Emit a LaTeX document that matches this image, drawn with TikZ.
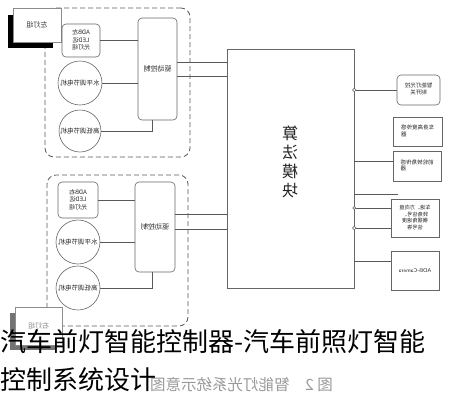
\documentclass[tikz,border=0pt]{standalone}
\usepackage{graphicx}
\usepackage{fontspec}
\setmainfont{Noto Sans CJK SC}
\newfontfamily\cjk{Noto Sans CJK SC}
\newcommand{\mir}[1]{\scalebox{-1}[1]{#1}}
\begin{document}
\begin{tikzpicture}[x=1pt,y=-1pt,
  ln/.style={draw=black!65, line width=0.6pt},
  box/.style={draw=black!60, line width=0.6pt, fill=white, inner sep=0pt, align=center, text=black!85, font=\cjk\fontsize{5.5}{6.5}\selectfont},
  rbox/.style={box, rounded corners=4pt},
  circ/.style={box, circle, minimum size=44pt, font=\cjk\fontsize{6.5}{7.5}\selectfont},
  grp/.style={draw=black!65, line width=0.8pt, dash pattern=on 5pt off 3pt, rounded corners=9pt, inner sep=0pt},
  shad/.style={inner sep=0pt},
  lblbox/.style={draw=black!45, line width=0.5pt, fill=white, inner sep=0pt, text=black!80, font=\cjk\fontsize{7}{8}\selectfont},
  dot/.style={draw=black!65, fill=white, line width=0.5pt}
]
\useasboundingbox (0,0) rectangle (452,400);

% ---------- top group ----------
\node[grp, minimum width=145pt, minimum height=149pt] (grpT) at (117.5,82.5) {};
\node[shad, fill=black, minimum width=45pt, minimum height=33pt] (shT) at (30.5,31.5) {};
\node[lblbox, minimum width=48pt, minimum height=34pt] (lblT) at (37,25) {\mir{左灯组}};
\node[rbox, minimum width=38pt, minimum height=33pt, font=\cjk\fontsize{6}{7.5}\selectfont] (adbT) at (81,40.5) {\mir{\begin{tabular}{@{}c@{}}ADB左\\LED远\\光灯组\end{tabular}}};
\node[circ] (c1T) at (80,83) {\mir{水平调节电机}};
\node[circ, minimum size=42pt] (c2T) at (80,131) {\mir{高低调节电机}};
\node[rbox, minimum width=39pt, minimum height=102pt, font=\cjk\fontsize{7}{8}\selectfont] (drvT) at (157.5,69) {\mir{驱动控制}};

% ---------- bottom group ----------
\node[grp, minimum width=141pt, minimum height=151pt] (grpB) at (117.5,250.5) {};
\node[rbox, minimum width=40pt, minimum height=36pt, font=\cjk\fontsize{6}{7.5}\selectfont] (adbB) at (78,200) {\mir{\begin{tabular}{@{}c@{}}ADB右\\LED远\\光灯组\end{tabular}}};
\node[circ] (c1B) at (78,242) {\mir{水平调节电机}};
\node[circ] (c2B) at (78,288) {\mir{高低调节电机}};
\node[rbox, minimum width=40pt, minimum height=90pt, font=\cjk\fontsize{7}{8}\selectfont] (drvB) at (155,227) {\mir{驱动控制}};
\node[shad, fill=black!55, minimum width=45pt, minimum height=37pt] (shB) at (32.5,331.5) {};
\node[lblbox, minimum width=47pt, minimum height=38pt, text=black!45] (lblB) at (38.5,326) {\mir{右灯组}};

% ---------- main box ----------
\node[box, rounded corners=0pt, minimum width=127pt, minimum height=239pt] (big) at (290.5,168.5) {};
\node[inner sep=0pt, text=black!85, font=\cjk\fontsize{16}{18.5}\selectfont] (bigtxt) at (290,164) {\mir{\begin{tabular}{@{}c@{}}算\\法\\模\\块\end{tabular}}};

% ---------- right boxes ----------
\node[rbox, minimum width=43pt, minimum height=30pt, font=\cjk\fontsize{5.5}{7}\selectfont] (r1) at (418.5,90) {\mir{\begin{tabular}{@{}c@{}}智能灯光控\\制开关\end{tabular}}};
\node[box, minimum width=49pt, minimum height=29pt] (r2) at (417.5,131.5) {\mir{\begin{tabular}{@{}r@{}}车身高度传感\\器\end{tabular}}};
\node[box, minimum width=48pt, minimum height=30pt] (r3) at (417,166) {\mir{\begin{tabular}{@{}r@{}}前轮转角传感\\器\end{tabular}}};
\node[box, minimum width=48pt, minimum height=38pt, font=\cjk\fontsize{5.2}{6.6}\selectfont] (r4) at (415,218) {\mir{\begin{tabular}{@{}c@{}}车速、方向盘\\转角信号、\\横摆角速度\\信号等\end{tabular}}};
\node[box, minimum width=48pt, minimum height=39pt, font=\sffamily\fontsize{5.5}{6.5}\selectfont] (r5) at (415,270.5) {\mir{ADB-Camera}};
\coordinate (stub) at (398,194);

% ---------- connectors ----------
\draw[ln] (adbT.east) -- (adbT.east -| drvT.west);
\draw[ln] (c1T.east) -- (c1T.east -| drvT.west);
\draw[ln] (c2T.east) -| ([xshift=-5.5pt]drvT.south);
\draw[ln] ([yshift=7pt]drvT.east) -- ([yshift=7pt]drvT.east -| big.west);
\draw[ln] ([yshift=-7pt]drvT.east) -- ([yshift=-7pt]drvT.east -| big.west);

\draw[ln] (adbB.east) -- (adbB.east -| drvB.west);
\draw[ln] (c1B.east) -- (c1B.east -| drvB.west);
\draw[ln] (c2B.east) -| ([xshift=-3pt]drvB.south);
\draw[ln] ([yshift=13pt]drvB.east) -- ([yshift=13pt]drvB.east -| big.west);
\draw[ln] ([yshift=-2pt]drvB.east) -- ([yshift=-2pt]drvB.east -| big.west);

\draw[ln] (r1.west -| big.east) -- (r1.west);
\draw[dot] (r1.west -| big.east) circle (1.8pt);
\draw[ln] ([yshift=5pt]r3.west -| big.east) -- ([yshift=5pt]r3.west);
\draw[ln] (stub -| big.east) -- (stub);
\draw[ln] ([yshift=10pt]r4.west -| big.east) -- ([yshift=10pt]r4.west);
\draw[dot] ([yshift=10pt]r4.west -| big.east) circle (1.5pt);
\draw[ln] ([yshift=-10pt]r4.west -| big.east) -- ([yshift=-10pt]r4.west);
\draw[dot] ([yshift=-10pt]r4.west -| big.east) circle (1.8pt);
\draw[ln] ([yshift=9.5pt]r5.west -| big.east) -- ([yshift=9.5pt]r5.west);

% ---------- captions ----------
\node[anchor=east, inner sep=0pt, text=black!40, font=\cjk\fontsize{15.5}{17}\selectfont] (figcap) at (333,385) {\mir{图 2\quad 智能灯光系统示意图}};
\node[anchor=west, inner sep=0pt, text=black, font=\cjk\fontsize{26}{30}\selectfont] (title1) at (0,342) {汽车前灯智能控制器-汽车前照灯智能};
\node[anchor=west, inner sep=0pt, text=black, font=\cjk\fontsize{26}{30}\selectfont] (title2) at (0,380) {控制系统设计};
\end{tikzpicture}
\end{document}
